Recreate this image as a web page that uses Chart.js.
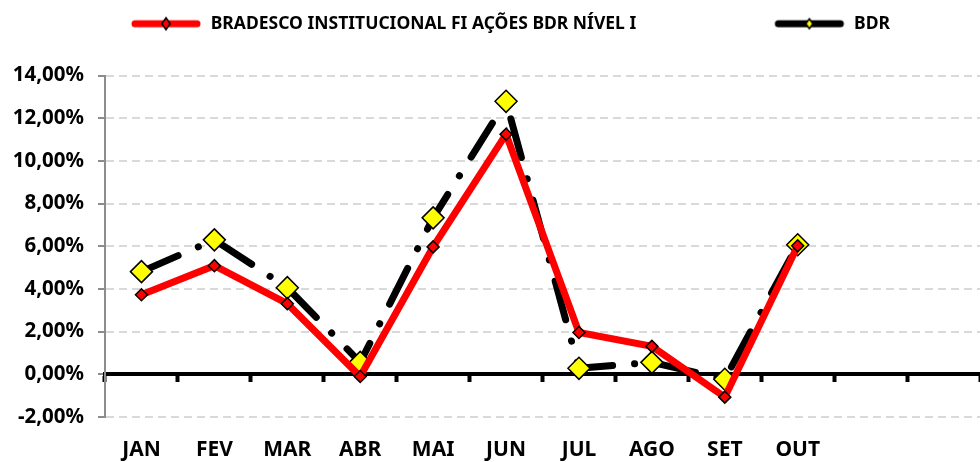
<!DOCTYPE html>
<html lang="pt">
  <head>
    <meta charset="UTF-8" />
    <title>Bradesco BDR</title>
    <script src="https://cdn.jsdelivr.net/npm/chart.js"></script>
    <style>
      html, body {
        margin: 0;
        padding: 0;
        background: #fff;
        overflow: hidden;
      }
      .wrap {
        width: 980px;
        height: 462px;
      }
      canvas {
        display: block;
      }
    </style>
  </head>
  <body>
    <div class="wrap"><canvas id="chart"></canvas></div>

    <script>
      const months = ["JAN", "FEV", "MAR", "ABR", "MAI", "JUN", "JUL", "AGO", "SET", "OUT", "", ""];
      const fundo = [3.73, 5.09, 3.31, -0.1, 5.97, 11.25, 1.96, 1.31, -1.07, 6.02, null, null];
      const bdr = [4.81, 6.3, 4.06, 0.56, 7.33, 12.79, 0.28, 0.56, -0.23, 6.07, null, null];
      const seriesNames = ["BRADESCO INSTITUCIONAL FI AÇÕES BDR NÍVEL I", "BDR"];

      const FONT = "'Noto Sans', 'DejaVu Sans', sans-serif";

      // little line+marker swatches for the legend
      function swatch(lineColor, markColor, r) {
        const c = document.createElement("canvas");
        c.width = 72;
        c.height = 16;
        const g = c.getContext("2d");
        g.strokeStyle = lineColor;
        g.lineWidth = 7;
        g.lineCap = "round";
        g.beginPath();
        g.moveTo(5, 8);
        g.lineTo(67, 8);
        g.stroke();
        if (r > 0) {
          g.beginPath();
          g.moveTo(36, 8 - r);
          g.lineTo(36 + r * 0.7, 8);
          g.lineTo(36, 8 + r);
          g.lineTo(36 - r * 0.7, 8);
          g.closePath();
          g.fillStyle = markColor;
          g.fill();
          g.lineWidth = 1.5;
          g.strokeStyle = "#000";
          g.stroke();
        }
        return c;
      }

      // extra room under the legend, and nudge it a bit to the right
      const legendGap = {
        id: "legendGap",
        beforeInit(chart) {
          const fit = chart.legend.fit;
          chart.legend.fit = function () {
            fit.bind(chart.legend)();
            this.height += 33;
          };
        },
        afterLayout(chart) {
          chart.legend.left += 20;
          chart.legend.right += 20;
        },
      };

      new Chart(document.getElementById("chart"), {
        type: "line",
        data: {
          labels: months,
          datasets: [
            {
              label: seriesNames[0],
              data: fundo,
              borderColor: "#ff0000",
              borderWidth: 7,
              pointStyle: "rectRot",
              pointRadius: 6,
              pointBackgroundColor: "#ff0000",
              pointBorderColor: "#000",
              pointBorderWidth: 1.5,
              tension: 0,
              order: 1,
            },
            {
              label: seriesNames[1],
              data: bdr,
              borderColor: "#000",
              borderWidth: 7,
              borderDash: [40, 22, 0.1, 22],
              borderCapStyle: "round",
              pointStyle: "rectRot",
              pointRadius: 11,
              pointBackgroundColor: "#ffff00",
              pointBorderColor: "#000",
              pointBorderWidth: 1.5,
              tension: 0,
              order: 2,
            },
          ],
        },
        options: {
          responsive: true,
          maintainAspectRatio: false,
          animation: false,
          layout: { autoPadding: false, padding: { top: 5, left: 0, right: 0, bottom: 0 } },
          plugins: {
            tooltip: { enabled: false },
            legend: {
              position: "top",
              labels: {
                usePointStyle: true,
                pointStyleWidth: 72,
                padding: 10,
                color: "#000",
                font: { family: FONT, size: 17.5, weight: "bold" },
                generateLabels() {
                  return [
                    { text: seriesNames[0], pointStyle: swatch("#ff0000", "#ff0000", 6), datasetIndex: 0 },
                    { text: "        ", pointStyle: swatch("rgba(0,0,0,0)", "rgba(0,0,0,0)", 0), lineWidth: 0, strokeStyle: "rgba(0,0,0,0)" },
                    { text: seriesNames[1], pointStyle: swatch("#000", "#ffff00", 5), datasetIndex: 1 },
                  ];
                },
              },
            },
          },
          scales: {
            x: {
              type: "category",
              position: "bottom",
              offset: true,
              grid: { display: false, drawTicks: false },
              border: { display: false },
              ticks: {
                color: "#000",
                padding: 20,
                maxRotation: 0,
                autoSkip: false,
                font: { family: FONT, size: 21, weight: "bold" },
              },
              afterFit(s) {
                s.height = 45;
                s.paddingLeft = 0;
                s.paddingRight = 0;
              },
            },
            zero: {
              type: "category",
              axis: "x",
              labels: months,
              position: { y: 0 },
              offset: true,
              grid: {
                display: true,
                offset: true,
                drawOnChartArea: false,
                drawTicks: true,
                tickLength: 6,
                tickColor: "#000",
                tickWidth: 4,
              },
              border: { color: "#000", width: 4 },
              ticks: { display: false },
              afterFit(s) {
                s.paddingLeft = 0;
                s.paddingRight = 0;
              },
            },
            y: {
              min: -2,
              max: 14,
              ticks: {
                stepSize: 2,
                color: "#000",
                padding: 14,
                font: { family: FONT, size: 20.5, weight: "bold" },
                callback: (v) => v.toFixed(2).replace(".", ",") + "%",
              },
              grid: {
                color: "#d9d9d9",
                lineWidth: 2,
                tickColor: "#8c8c8c",
                tickLength: 7,
                tickWidth: 2,
              },
              border: { color: "#8c8c8c", width: 2, dash: [8, 5] },
              afterFit(s) {
                s.width = 105;
              },
            },
          },
        },
        plugins: [legendGap],
      });
    </script>
  </body>
</html>
